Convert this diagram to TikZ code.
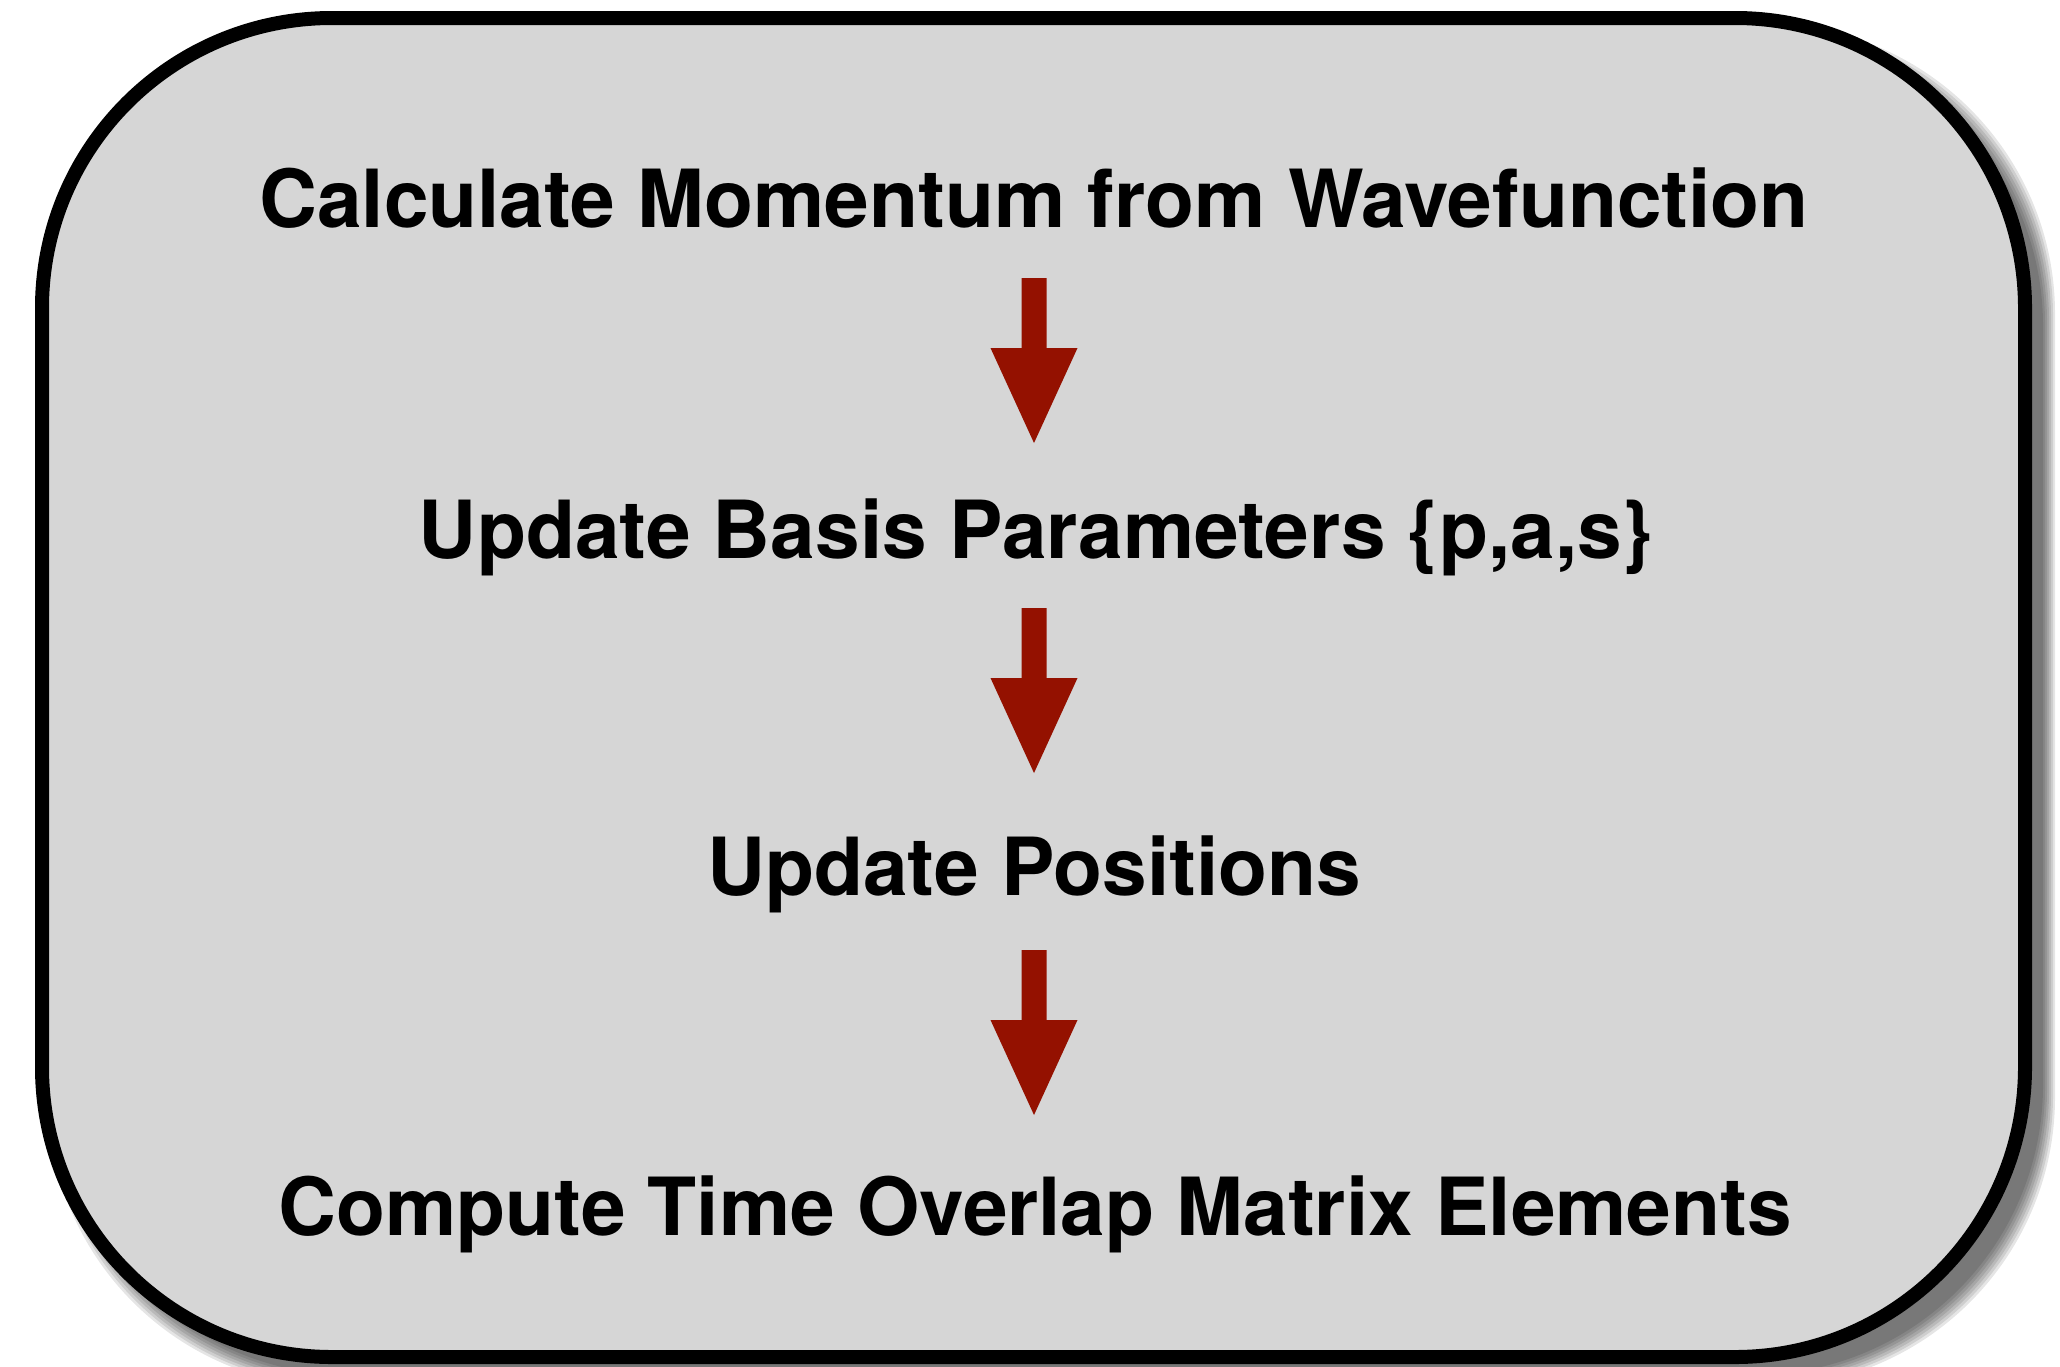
\documentclass[tikz,border=0pt]{standalone}
\usepackage{fontspec}
\setmainfont{TeX Gyre Heros}
\definecolor{boxfill}{HTML}{D6D6D6}
\definecolor{arrowred}{HTML}{941100}
\begin{document}
\begin{tikzpicture}[x=0.5pt,y=-0.5pt,
  label/.style={anchor=base,inner sep=0pt,font=\fontsize{40.1}{48}\selectfont\bfseries},
  blockarrow/.pic={\fill[arrowred] (-12.5,0) -- (12.5,0) -- (12.5,70) -- (43.5,70) -- (0,165) -- (-43.5,70) -- (-12.5,70) -- cycle;}]
\useasboundingbox (0,0) rectangle (2060,1366);
% soft shadow
\foreach \k in {0,...,6}{
  \pgfmathsetmacro{\e}{12-2*\k}
  \fill[black,opacity=0.1,rounded corners=145pt]
    (42+18-\e,18+18-\e) rectangle (2025+18+\e,1357+18+\e);
}
% main box
\draw[line width=7pt,fill=boxfill,rounded corners=145pt] (42,18) rectangle (2025,1357);
% texts
\node[label] (t1) at (1034,227) {Calculate Momentum from Wavefunction};
\node[label] (t2) at (1036,558) {Update Basis Parameters \{p,a,s\}};
\node[label] (t3) at (1034,895) {Update Positions};
\node[label] (t4) at (1035,1235) {Compute Time Overlap Matrix Elements};
% arrows
\pic at (1034,278) {blockarrow};
\pic at (1034,608) {blockarrow};
\pic at (1034,950) {blockarrow};
\end{tikzpicture}
\end{document}
